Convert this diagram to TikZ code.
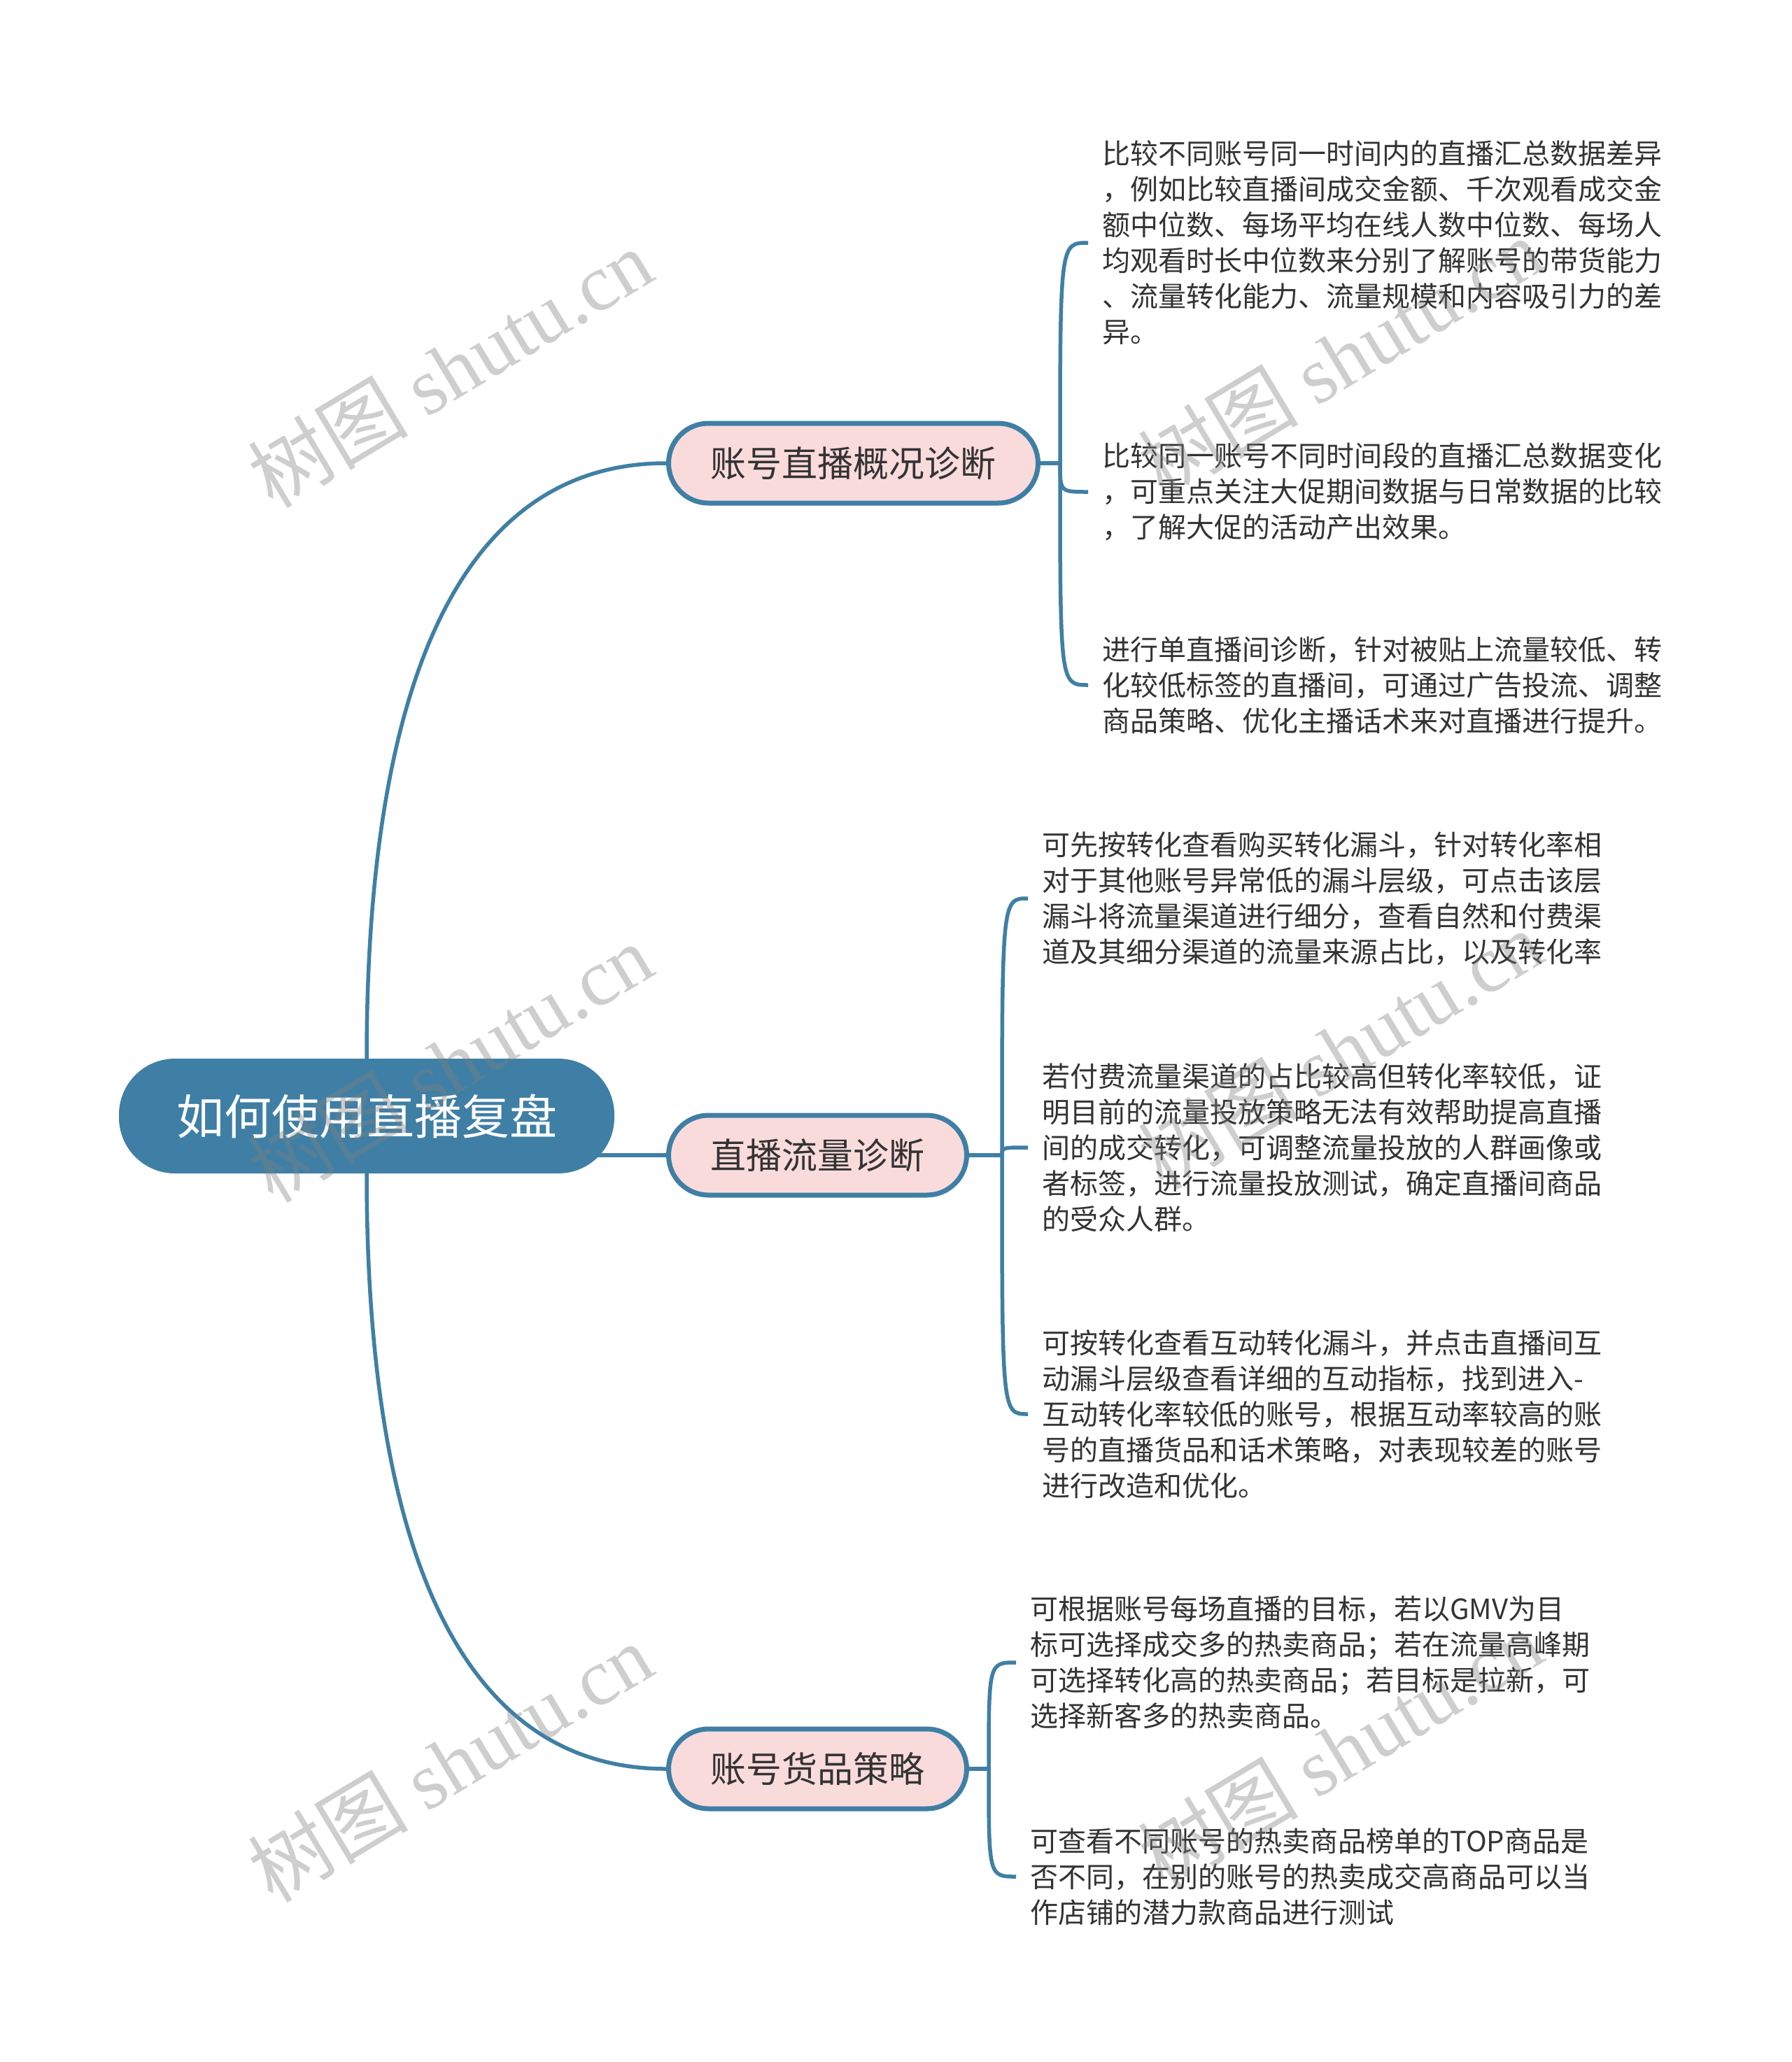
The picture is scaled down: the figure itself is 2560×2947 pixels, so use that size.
\documentclass[tikz,border=0pt]{standalone}
\usepackage{fontspec}
\setmainfont{Noto Sans CJK SC}
\newfontfamily\wmserif{Liberation Serif}
\usetikzlibrary{backgrounds}
\definecolor{mapblue}{HTML}{3F7FA5}
\definecolor{mappink}{HTML}{FADBDB}
\definecolor{inkgray}{HTML}{333333}

\begin{document}
\begin{tikzpicture}[x=1pt, y=-1pt,
		rootbox/.style={fill=mapblue, text=white, rounded corners=80pt, minimum height=164pt, inner xsep=82pt, font=\fontsize{68}{80}\selectfont},
		topicbox/.style={anchor=west, draw=mapblue, line width=7pt, fill=mappink, text=inkgray, rounded corners=57pt, minimum height=114pt, inner xsep=60pt, font=\fontsize{51}{60}\selectfont},
		leafnote/.style={anchor=west, align=left, text=inkgray, inner xsep=20pt, inner ysep=0pt, font=\fontsize{40}{51}\selectfont},
		link/.style={draw=mapblue, line width=5.5pt},
		wmark/.style={text=gray, opacity=0.38, rotate=31, font=\fontsize{115}{120}\selectfont}]
		\useasboundingbox (0,0) rectangle (2560,2947);

		\node[rootbox] (root) at (524,1595) {如何使用直播复盘};
		\node[topicbox] (b1) at (952,662) {账号直播概况诊断};
		\node[topicbox] (b2) at (952,1651) {直播流量诊断};
		\node[topicbox] (b3) at (952,2528) {账号货品策略};

		\coordinate (j1) at (1515,662);
		\coordinate (j2) at (1432,1651);
		\coordinate (j3) at (1413,2528);

		\node[leafnote] (l1a) at (1555,347) {比较不同账号同一时间内的直播汇总数据差异\\
			，例如比较直播间成交金额、千次观看成交金\\
			额中位数、每场平均在线人数中位数、每场人\\
			均观看时长中位数来分别了解账号的带货能力\\
			、流量转化能力、流量规模和内容吸引力的差\\
			异。};
		\node[leafnote] (l1b) at (1555,703) {比较同一账号不同时间段的直播汇总数据变化\\
			，可重点关注大促期间数据与日常数据的比较\\
			，了解大促的活动产出效果。};
		\node[leafnote] (l1c) at (1555,979) {进行单直播间诊断，针对被贴上流量较低、转\\
			化较低标签的直播间，可通过广告投流、调整\\
			商品策略、优化主播话术来对直播进行提升。};
		\node[leafnote] (l2a) at (1469,1284) {可先按转化查看购买转化漏斗，针对转化率相\\
			对于其他账号异常低的漏斗层级，可点击该层\\
			漏斗将流量渠道进行细分，查看自然和付费渠\\
			道及其细分渠道的流量来源占比，以及转化率};
		\node[leafnote] (l2b) at (1469,1640) {若付费流量渠道的占比较高但转化率较低，证\\
			明目前的流量投放策略无法有效帮助提高直播\\
			间的成交转化，可调整流量投放的人群画像或\\
			者标签，进行流量投放测试，确定直播间商品\\
			的受众人群。};
		\node[leafnote] (l2c) at (1469,2021) {可按转化查看互动转化漏斗，并点击直播间互\\
			动漏斗层级查看详细的互动指标，找到进入-\\
			互动转化率较低的账号，根据互动率较高的账\\
			号的直播货品和话术策略，对表现较差的账号\\
			进行改造和优化。};
		\node[leafnote] (l3a) at (1452,2376) {可根据账号每场直播的目标，若以GMV为目\\
			标可选择成交多的热卖商品；若在流量高峰期\\
			可选择转化高的热卖商品；若目标是拉新，可\\
			选择新客多的热卖商品。};
		\node[leafnote] (l3b) at (1452,2682) {可查看不同账号的热卖商品榜单的TOP商品是\\
			否不同，在别的账号的热卖成交高商品可以当\\
			作店铺的潜力款商品进行测试};

		\begin{scope}[on background layer]
			\fill[white] (0,0) rectangle (2560,2947);
			\draw[link] (root.north) .. controls +(0,-480) and +(-320,0) .. (b1.west);
			\draw[link] (root.center |- b2.west) -- (b2.west);
			\draw[link] (root.south) .. controls +(0,480) and +(-320,0) .. (b3.west);
			\draw[link] (b1.east) -- (j1);
			\draw[link] (b2.east) -- (j2);
			\draw[link] (b3.east) -- (j3);
			\foreach \leaf in {l1a,l1b,l1c}
				\draw[link] (j1) .. controls (j1 |- \leaf.west) .. (\leaf.west);
			\foreach \leaf in {l2a,l2b,l2c}
				\draw[link] (j2) .. controls (j2 |- \leaf.west) .. (\leaf.west);
			\foreach \leaf in {l3a,l3b}
				\draw[link] (j3) .. controls (j3 |- \leaf.west) .. (\leaf.west);
		\end{scope}

		\foreach \wx/\wy [count=\k] in {643/526, 643/1519, 643/2519, 1915/510, 1915/1500, 1915/2500}
			\node[wmark] (wm\k) at (\wx,\wy) {树图 {\wmserif shutu.cn}};
	\end{tikzpicture}
\end{document}
